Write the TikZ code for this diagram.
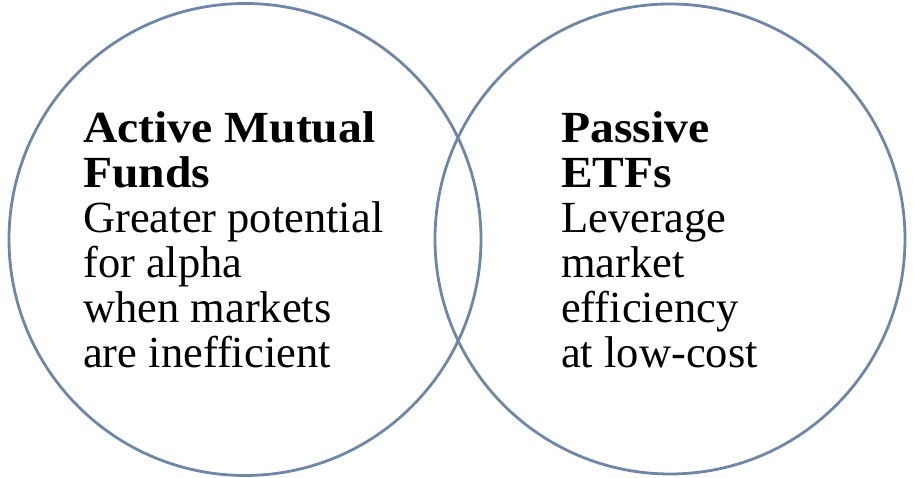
\documentclass[tikz,border=0pt]{standalone}
\usepackage{fontspec}
\setmainfont{Liberation Serif}
\newfontfamily\headfont[FakeStretch=1.07]{Liberation Serif Bold}
\definecolor{ringblue}{RGB}{112,134,166}
\begin{document}
\begin{tikzpicture}[x=1pt,y=1pt,
  ring/.style={circle, draw=ringblue, line width=2.8pt, inner sep=0pt},
  blurb/.style={anchor=north west, inner sep=0pt, align=left, text=black,
    font=\fontsize{44.5}{45}\selectfont}]
\useasboundingbox[fill=white] (0,0) rectangle (914,478);
\node[ring, minimum size=472pt] (leftring) at (245,238.5) {};
\node[ring, minimum size=470pt] (rightring) at (670,239) {};
\node[blurb] (lefttext) at (83,366.5) {{\headfont Active Mutual}\\{\headfont Funds}\\Greater potential\\for alpha\\when markets\\are inefficient};
\node[blurb] (righttext) at (561,366.5) {{\headfont Passive}\\{\headfont ETFs}\\Leverage\\market\\efficiency\\at low-cost};
\end{tikzpicture}
\end{document}
